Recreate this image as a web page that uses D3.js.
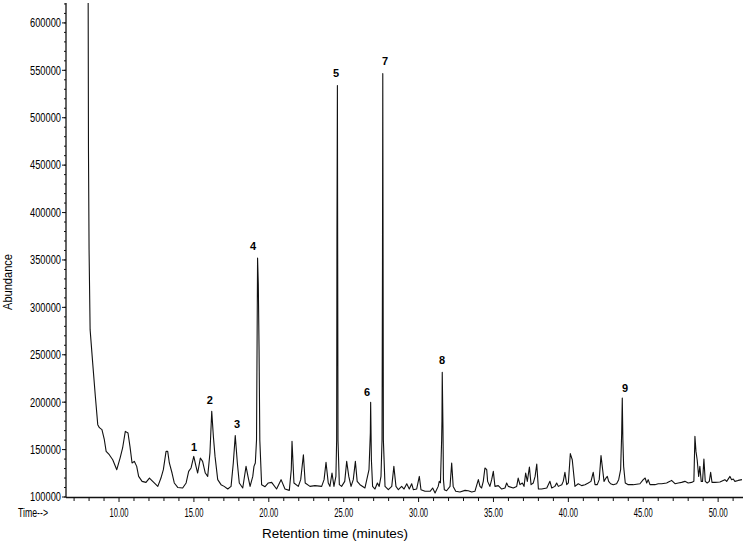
<!DOCTYPE html>
<html lang="en">
<head>
    <meta charset="UTF-8">
    <title>Chromatogram</title>
    <script src="https://d3js.org/d3.v7.min.js"></script>
    <style>
        body { margin: 0; background: #fff; }
        svg text { font-family: "Liberation Sans", Arial, sans-serif; fill: #000; }
        .trace { fill: none; stroke: #111; stroke-width: 1.1px; stroke-linejoin: round; }
        .axis-line { stroke: #111; stroke-width: 1.3px; }
        .tick { stroke: #111; stroke-width: 1px; }
    </style>
</head>
<body>
    <script>
        // retention time (minutes) and abundance
        var traceTime = [
            7.93, 7.96, 8.00, 8.07, 8.24, 8.42, 8.58, 8.69, 8.86, 9.02, 9.14, 9.35, 9.58, 9.85,
            10.07, 10.24, 10.42, 10.60, 10.73, 10.87, 11.02, 11.18, 11.31, 11.54, 11.80, 12.03, 12.25, 12.59,
            12.80, 12.96, 13.14, 13.25, 13.36, 13.54, 13.69, 13.92, 14.25, 14.48, 14.65, 14.81, 14.99, 15.14,
            15.25, 15.43, 15.58, 15.76, 15.92, 16.07, 16.19, 16.30, 16.41, 16.59, 16.81, 17.02, 17.26, 17.48,
            17.63, 17.76, 17.90, 18.03, 18.26, 18.48, 18.61, 18.75, 18.93, 19.01, 19.10, 19.18, 19.25, 19.30,
            19.35, 19.40, 19.52, 19.75, 19.97, 20.19, 20.52, 20.82, 21.08, 21.37, 21.50, 21.55, 21.68, 21.97,
            22.13, 22.31, 22.43, 22.75, 23.08, 23.53, 23.69, 23.82, 23.97, 24.08, 24.22, 24.35, 24.48, 24.53,
            24.55, 24.58, 24.62, 24.71, 24.86, 25.07, 25.20, 25.34, 25.49, 25.64, 25.78, 25.90, 26.09, 26.42,
            26.69, 26.78, 26.80, 26.85, 26.93, 27.09, 27.25, 27.37, 27.49, 27.56, 27.59, 27.61, 27.65, 27.76,
            27.98, 28.21, 28.35, 28.49, 28.65, 28.87, 29.03, 29.21, 29.38, 29.54, 29.65, 29.87, 30.05, 30.16,
            30.43, 30.77, 30.94, 31.10, 31.31, 31.38, 31.46, 31.54, 31.56, 31.58, 31.63, 31.66, 31.72, 31.87,
            32.10, 32.21, 32.31, 32.48, 32.76, 33.10, 33.32, 33.55, 33.76, 33.99, 34.10, 34.21, 34.32, 34.43,
            34.55, 34.61, 34.76, 34.88, 34.99, 35.10, 35.32, 35.55, 35.77, 35.88, 35.99, 36.32, 36.55, 36.65,
            36.77, 36.93, 37.04, 37.15, 37.26, 37.40, 37.51, 37.66, 37.78, 37.89, 38.00, 38.22, 38.56, 38.77,
            38.89, 39.10, 39.22, 39.33, 39.56, 39.66, 39.77, 39.89, 40.00, 40.13, 40.26, 40.44, 40.66, 40.89,
            41.11, 41.33, 41.51, 41.66, 41.78, 41.93, 42.06, 42.18, 42.29, 42.38, 42.51, 42.60, 42.69, 42.82,
            43.00, 43.22, 43.36, 43.49, 43.56, 43.60, 43.64, 43.69, 43.80, 44.00, 44.33, 44.78, 45.00, 45.13,
            45.23, 45.33, 45.45, 45.78, 46.00, 46.23, 46.56, 46.78, 46.89, 47.12, 47.34, 47.56, 47.78, 48.00,
            48.23, 48.38, 48.45, 48.52, 48.60, 48.70, 48.78, 48.87, 48.96, 49.05, 49.14, 49.27, 49.41, 49.50,
            49.59, 49.79, 50.12, 50.45, 50.57, 50.79, 50.90, 51.01, 51.12, 51.34, 51.59
        ];
        var traceAbundance = [
            700000, 466000, 361000, 276500, 241700, 206000, 176300, 173100, 171000, 160400, 148100, 144600, 139300, 128800,
            141100, 151700, 169200, 167500, 153400, 135900, 137600, 132300, 121700, 116500, 115400, 120000, 116500, 111200,
            120000, 128800, 148100, 148100, 135900, 125300, 114800, 110100, 109500, 114800, 127000, 130600, 142800, 132300,
            125300, 141100, 137600, 125300, 121700, 146400, 190300, 163900, 142800, 118300, 113000, 111200, 108400, 111200,
            135900, 164700, 135900, 114800, 109500, 132300, 121700, 111200, 121700, 132300, 135900, 160000, 352000, 324000,
            255000, 160000, 113000, 110900, 114800, 115400, 108400, 118300, 108400, 107000, 128800, 158700, 114800, 111200,
            118300, 144600, 114800, 111200, 112000, 111200, 118300, 136500, 114800, 111200, 125300, 111200, 121700, 160000,
            376700, 534000, 160000, 113000, 111200, 116500, 137600, 121700, 111200, 118300, 137600, 116500, 113000, 109500,
            128800, 167800, 199800, 139300, 111200, 108400, 114800, 111200, 121700, 160000, 345000, 546500, 160000, 111200,
            107700, 111200, 132300, 111200, 107700, 111200, 108400, 114000, 108400, 114000, 107700, 108400, 121700, 107700,
            106000, 106000, 109500, 104200, 111200, 116500, 115000, 160000, 179800, 231500, 171000, 118300, 107700, 106600,
            111200, 135900, 111200, 106000, 105300, 107000, 106600, 105300, 106000, 118300, 111200, 109500, 116500, 130600,
            128800, 116500, 111200, 118300, 127000, 111200, 112000, 108400, 109500, 114800, 111200, 109500, 111200, 120000,
            113000, 114800, 111200, 125300, 116500, 131600, 113000, 114800, 121700, 134800, 108400, 108400, 109500, 116500,
            109500, 111200, 114800, 111200, 113000, 116500, 126000, 113000, 114800, 145700, 139300, 111200, 114000, 112000,
            113000, 114800, 116500, 126000, 113000, 113000, 118300, 143600, 128800, 116500, 120000, 121700, 116500, 114000,
            113000, 114000, 118300, 128800, 167500, 204400, 160400, 132300, 114800, 113000, 113000, 114000, 118300, 120000,
            114800, 118300, 113000, 113000, 114000, 114000, 114800, 116500, 117500, 114000, 114800, 115400, 116500, 114800,
            115400, 116500, 163900, 148100, 139300, 121700, 132300, 116500, 116500, 140100, 116500, 114800, 116500, 126000,
            115400, 115400, 115800, 118300, 116500, 121700, 118300, 119000, 116500, 117500, 118300
        ];

        // numbered peaks: label position (time, abundance)
        var peakNames = ["1", "2", "3", "4", "5", "6", "7", "8", "9"];
        var peakLabelTime = [15.01, 16.07, 17.88, 18.95, 24.49, 26.56, 27.76, 31.56, 43.78];
        var peakLabelAbundance = [153100, 202600, 177300, 365100, 547600, 211100, 560300, 244800, 215300];

        var yMajorTicks = [100000, 150000, 200000, 250000, 300000, 350000, 400000, 450000, 500000, 550000, 600000];
        var xMajorTicks = [10, 15, 20, 25, 30, 35, 40, 45, 50];

        var width = 746, height = 541;
        var plot = { left: 66, right: 743, top: 3, bottom: 497 };

        var svg = d3.select("body").append("svg")
            .attr("width", width)
            .attr("height", height);

        var x = d3.scaleLinear().domain([6.46, 51.66]).range([plot.left, plot.right]);
        var y = d3.scaleLinear().domain([100000, 621000]).range([plot.bottom, plot.top]);

        svg.append("clipPath").attr("id", "clip")
            .append("rect")
            .attr("x", plot.left).attr("y", plot.top)
            .attr("width", plot.right - plot.left).attr("height", plot.bottom - plot.top);

        var pts = traceTime.map(function (t, i) { return [t, traceAbundance[i]]; });
        var line = d3.line()
            .x(function (d) { return x(d[0]); })
            .y(function (d) { return y(d[1]); });

        svg.append("path")
            .datum(pts)
            .attr("class", "trace")
            .attr("clip-path", "url(#clip)")
            .attr("d", line);

        // Y axis
        svg.append("line").attr("class", "axis-line")
            .attr("x1", plot.left).attr("x2", plot.left)
            .attr("y1", plot.top).attr("y2", plot.bottom);

        svg.selectAll(".ytick-minor")
            .data(d3.range(100000, 621000, 10000))
            .enter().append("line")
            .attr("class", "tick")
            .attr("x1", plot.left - 2).attr("x2", plot.left)
            .attr("y1", function (d) { return y(d); }).attr("y2", function (d) { return y(d); });

        svg.selectAll(".ytick")
            .data(yMajorTicks)
            .enter().append("line")
            .attr("class", "tick")
            .attr("x1", plot.left - 4).attr("x2", plot.left)
            .attr("y1", function (d) { return y(d); }).attr("y2", function (d) { return y(d); });

        svg.selectAll(".ylabel")
            .data(yMajorTicks)
            .enter().append("text")
            .attr("x", plot.left - 5)
            .attr("y", function (d) { return y(d); })
            .attr("dy", "0.36em")
            .attr("text-anchor", "end")
            .attr("font-size", "12px")
            .attr("textLength", 31)
            .attr("lengthAdjust", "spacingAndGlyphs")
            .text(function (d) { return d; });

        // X axis
        svg.append("line").attr("class", "axis-line")
            .attr("x1", plot.left).attr("x2", plot.right)
            .attr("y1", plot.bottom + 0.5).attr("y2", plot.bottom + 0.5);

        svg.selectAll(".xtick")
            .data(d3.range(7, 52, 1))
            .enter().append("line")
            .attr("class", "tick")
            .attr("x1", function (d) { return x(d); }).attr("x2", function (d) { return x(d); })
            .attr("y1", plot.bottom).attr("y2", function (d) { return plot.bottom + (d % 5 === 0 ? 5 : 4); });

        svg.selectAll(".xlabel")
            .data(xMajorTicks)
            .enter().append("text")
            .attr("x", function (d) { return x(d); })
            .attr("y", 513)
            .attr("dy", "0.36em")
            .attr("text-anchor", "middle")
            .attr("font-size", "12px")
            .attr("textLength", 19)
            .attr("lengthAdjust", "spacingAndGlyphs")
            .text(function (d) { return d3.format(".2f")(d); });

        svg.append("text")
            .attr("x", 18).attr("y", 513).attr("dy", "0.36em")
            .attr("font-size", "12px")
            .attr("textLength", 30)
            .attr("lengthAdjust", "spacingAndGlyphs")
            .text("Time-->");

        svg.append("text")
            .attr("x", 335).attr("y", 533).attr("dy", "0.36em")
            .attr("text-anchor", "middle")
            .attr("font-size", "13.5px")
            .attr("textLength", 146)
            .text("Retention time (minutes)");

        svg.append("text")
            .attr("transform", "translate(8,282) rotate(-90)")
            .attr("dy", "0.36em")
            .attr("text-anchor", "middle")
            .attr("font-size", "12px")
            .attr("textLength", 56)
            .attr("lengthAdjust", "spacingAndGlyphs")
            .text("Abundance");

        // peak numbers
        svg.selectAll(".peak")
            .data(peakNames)
            .enter().append("text")
            .attr("x", function (d, i) { return x(peakLabelTime[i]); })
            .attr("y", function (d, i) { return y(peakLabelAbundance[i]); })
            .attr("dy", "0.36em")
            .attr("text-anchor", "middle")
            .attr("font-size", "11px")
            .attr("font-weight", "bold")
            .text(function (d) { return d; });
    </script>
</body>
</html>
